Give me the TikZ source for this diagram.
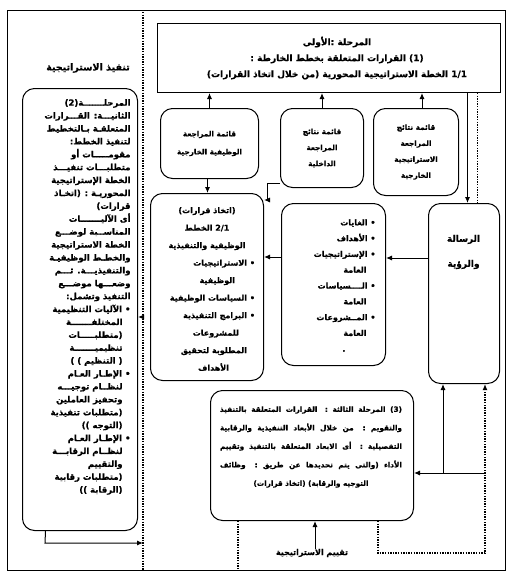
\documentclass[tikz,border=0pt]{standalone}
\usepackage{fontspec}
\usetikzlibrary{arrows.meta}
\TeXXeTstate=1
\newfontfamily\arabicfont[Script=Arabic, BoldFeatures={FakeBold=0.8}]{DejaVu Sans}
\newcommand{\rln}[2]{\makebox[#1][r]{#2}}
\newcommand{\jln}[2]{\makebox[#1][s]{#2}}
\tikzset{
  frm/.style={draw, line width=1pt, inner sep=0pt, anchor=north west},
  rbox/.style={draw, line width=1pt, rounded corners=12pt, inner sep=0pt, anchor=north west},
  sbox/.style={draw, line width=1pt, inner sep=0pt, anchor=north west},
  arw/.style={line width=1pt, -{Latex[length=6pt,width=5pt]}},
  dotl/.style={line width=1.6pt, dash pattern=on 1.4pt off 1.2pt},
  dotarw/.style={line width=1.6pt, dash pattern=on 1.4pt off 1.2pt, -{Latex[length=6pt,width=5pt]}},
  lbl/.style={inner sep=0pt, align=center},
}
\begin{document}
\begin{tikzpicture}[x=1pt,y=-1pt]
\useasboundingbox (0,0) rectangle (511,582);
% frame
\node[frm, minimum width=498pt, minimum height=560pt] (frame) at (7,10) {};
% boxes
\node[sbox, minimum width=343pt, minimum height=69pt] (S1) at (157,23) {};
\node[rbox, minimum width=98pt, minimum height=70pt] (FB) at (160,108) {};
\node[rbox, minimum width=83pt, minimum height=79pt] (IB) at (280,108) {};
\node[rbox, minimum width=85pt, minimum height=87pt] (EB) at (373,108) {};
\node[rbox, minimum width=71pt, minimum height=180pt] (R) at (428,203) {};
\node[rbox, minimum width=104pt, minimum height=162pt] (G) at (281,203) {};
\node[rbox, minimum width=113pt, minimum height=187pt] (B21) at (150,193) {};
\node[rbox, minimum width=203pt, minimum height=130pt] (S3) at (210,390) {};
\node[rbox, minimum width=115pt, minimum height=442pt] (L) at (22,88) {};

% texts
\node[lbl, font=\arabicfont\bfseries\fontsize{9}{16}\selectfont] (S1t) at ([xshift=8pt]S1.center) {%
\mbox{\beginR المرحلة :الأولى\endR}\\
\mbox{\beginR\beginL(1)\endL{}  القرارات المتعلقة بخطط الخارطة :\endR}\\
\mbox{\beginR\beginL 1/1\endL{} الخطة الاستراتيجية المحورية (من خلال اتخاذ القرارات)\endR}};

\node[lbl, font=\arabicfont\bfseries\fontsize{7.3}{18}\selectfont] (FBt) at (FB.center) {%
\mbox{\beginR قائمة المراجعة\endR}\\ \mbox{\beginR الوظيفية الخارجية\endR}};
\node[lbl, font=\arabicfont\bfseries\fontsize{7.3}{16}\selectfont] (IBt) at (IB.center) {%
\mbox{\beginR قائمة نتائج\endR}\\ \mbox{\beginR المراجعة\endR}\\ \mbox{\beginR الداخلية\endR}};
\node[lbl, font=\arabicfont\bfseries\fontsize{7.3}{16}\selectfont] (EBt) at (EB.center) {%
\mbox{\beginR قائمة نتائج\endR}\\ \mbox{\beginR المراجعة\endR}\\ \mbox{\beginR الاستراتيجية\endR}\\ \mbox{\beginR الخارجية\endR}};

\node[lbl, font=\arabicfont\bfseries\fontsize{9}{25}\selectfont] (Rt) at (463.5,252) {%
\mbox{\beginR الرسالة\endR}\\ \mbox{\beginR والرؤية\endR}};

\node[lbl, font=\arabicfont\bfseries\fontsize{8}{15.8}\selectfont] (Gt) at ([yshift=-1pt]G.center) {%
\rln{84pt}{\beginR • الغايات\endR}\\
\rln{84pt}{\beginR • الأهداف\endR}\\
\rln{84pt}{\beginR • الإستراتيجيات\endR}\\
\rln{84pt}{\beginR\hspace*{9pt}العامة\endR}\\
\rln{84pt}{\beginR • الــــسياسات\endR}\\
\rln{84pt}{\beginR\hspace*{9pt}العامة\endR}\\
\rln{84pt}{\beginR • المــشروعات\endR}\\
\rln{84pt}{\beginR\hspace*{9pt}العامة\endR}\\
\rln{84pt}{\beginR\hspace*{30pt}.\endR}};

\node[lbl, font=\arabicfont\bfseries\fontsize{8}{17.5}\selectfont] (B21t) at ([yshift=-2pt]B21.center) {%
\mbox{\beginR (اتخاذ قرارات)\endR}\\
\mbox{\beginR\beginL 2/1\endL{} الخطط\endR}\\
\mbox{\beginR الوظيفية والتنفيذية\endR}\\
\rln{96pt}{\beginR • الاستراتيجيات\endR}\\
\rln{96pt}{\beginR\hspace*{20pt}الوظيفية\endR}\\
\rln{96pt}{\beginR • السياسات الوظيفية\endR}\\
\rln{96pt}{\beginR • البرامج التنفيذية\endR}\\
\rln{96pt}{\beginR\hspace*{16pt}للمشروعات\endR}\\
\rln{96pt}{\beginR\hspace*{8pt}المطلوبة لتحقيق\endR}\\
\rln{96pt}{\beginR\hspace*{26pt}الأهداف\endR}};

\node[lbl, font=\arabicfont\bfseries\fontsize{7.3}{18.5}\selectfont] (S3t) at (311,447) {%
\jln{182pt}{\beginR\beginL(3)\endL{} المرحلة الثالثة : القرارات المتعلقة بالتنفيذ\endR}\\
\jln{182pt}{\beginR والتقويم : من خلال الأبعاد التنفيذية والرقابية\endR}\\
\jln{182pt}{\beginR التفصيلية : أى الابعاد المتعلقة بالتنفيذ وتقييم\endR}\\
\jln{182pt}{\beginR الأداء (والتى يتم تحديدها عن طريق : وظائف\endR}\\
\mbox{\beginR التوجيه والرقابة) (اتخاذ قرارات)\endR}};

\node[lbl, font=\arabicfont\bfseries\fontsize{8.5}{12.9}\selectfont] (Lt) at (79.5,297) {%
\rln{102pt}{\beginR المرحلـــــــة\beginL(2)\endL{}\endR}\\
\rln{102pt}{\beginR الثانيـــة: القـــرارات\endR}\\
\rln{102pt}{\beginR المتعلقـة بـالتخطيط\endR}\\
\rln{102pt}{\beginR لتنفيذ الخطط:\endR}\\
\rln{102pt}{\beginR مقومـــــات أو\endR}\\
\rln{102pt}{\beginR متطلبـــات تنفيـــذ\endR}\\
\rln{102pt}{\beginR الخطة الإستراتيجية\endR}\\
\rln{102pt}{\beginR المحوريـة : (اتخـاذ\endR}\\
\rln{102pt}{\beginR قرارات)\endR}\\
\rln{102pt}{\beginR أى الآليـــــــات\endR}\\
\rln{102pt}{\beginR المناســبة لوضـــع\endR}\\
\rln{102pt}{\beginR الخطة الاستراتيجية\endR}\\
\rln{102pt}{\beginR والخطـط الوظيفيـة\endR}\\
\rln{102pt}{\beginR والتنفيذيـــة. ثـــم\endR}\\
\rln{102pt}{\beginR وضعـــها موضـــع\endR}\\
\rln{102pt}{\beginR التنفيذ وتشمل:\endR}\\
\rln{102pt}{\beginR • الآليات التنظيمية\endR}\\
\rln{102pt}{\beginR\hspace*{8pt}المختلفـــــــة\endR}\\
\rln{102pt}{\beginR\hspace*{8pt}(متطلبـــــات\endR}\\
\rln{102pt}{\beginR\hspace*{8pt}تنظيميـــــــة\endR}\\
\rln{102pt}{\beginR\hspace*{8pt}( التنظيم ) )\endR}\\
\rln{102pt}{\beginR • الإطـار العـام\endR}\\
\rln{102pt}{\beginR\hspace*{8pt}لنظــام توجيـــه\endR}\\
\rln{102pt}{\beginR\hspace*{8pt}وتحفيز العاملين\endR}\\
\rln{102pt}{\beginR\hspace*{8pt}(متطلبات تنفيذية\endR}\\
\rln{102pt}{\beginR\hspace*{8pt}(التوجه ))\endR}\\
\rln{102pt}{\beginR • الإطـار العـام\endR}\\
\rln{102pt}{\beginR\hspace*{8pt}لنظــام الرقابـــة\endR}\\
\rln{102pt}{\beginR\hspace*{8pt}والتقييم\endR}\\
\rln{102pt}{\beginR\hspace*{8pt}(متطلبات رقابية\endR}\\
\rln{102pt}{\beginR\hspace*{8pt}(الرقابة ))\endR}};

\node[lbl, font=\arabicfont\bfseries\fontsize{9.5}{12}\selectfont] (T1) at (88,68) {\mbox{\beginR تنفيذ الاستراتيجية\endR}};
\node[lbl, font=\arabicfont\bfseries\fontsize{8}{12}\selectfont] (T2) at (312,553) {\mbox{\beginR تقييم الاستراتيجية\endR}};

% coordinates
\coordinate (dtop) at (143,12);
\coordinate (dbot) at (143,570);

% connectors
\draw[arw] (FB.north) -- (FB.north |- S1.south);
\draw[arw] (IB.north) -- (IB.north |- S1.south);
\draw[arw] ([xshift=6pt]EB.north) -- ([xshift=6pt]EB.north |- S1.south);
\draw[arw] ([xshift=-2pt]FB.south) -- ([xshift=-2pt]FB.south |- B21.north);
\draw[arw] (IB.west |- 0,183) -- (267,183) -- (267,200) -- (B21.east |- 0,200);
\draw[arw] ([xshift=3.5pt]R.north |- S1.south) -- ([xshift=3.5pt]R.north);
\draw[dotl] ([xshift=13.5pt]R.north |- S1.south) -- ([xshift=13.5pt]R.north);
\draw[arw] (R.west |- 0,258) -- (G.east |- 0,258);
\draw[arw] (G.west |- 0,257) -- (B21.east |- 0,257);
\draw[dotl] (dtop) -- (dbot);
\draw[arw] (dtop |- 0,317) -- (L.east |- 0,317);
\draw[arw] ([xshift=-34.5pt]L.south) -- (45,543) -- (dtop |- 0,543);
\draw[arw] (485,473) -- (S3.east |- 0,473);
\draw[arw] (443,473) -- (443,0 |- R.south);
\draw[dotarw] (378,0 |- S3.south) -- (378,553) -- (485,553) -- (485,0 |- R.south);
\draw[dotl] (238,0 |- S3.south) -- (238,0 |- frame.south);
\draw[arw] ([xshift=3pt]T2.north) -- ([xshift=3pt]T2.north |- S3.south);
\end{tikzpicture}
\end{document}
